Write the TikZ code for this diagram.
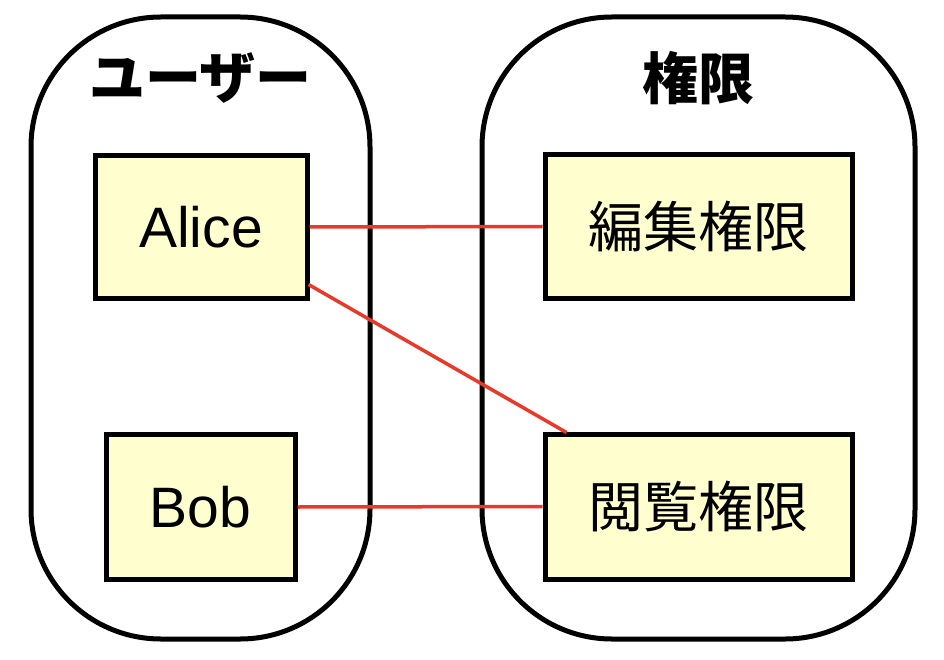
\documentclass[tikz,border=0pt]{standalone}
\usepackage{fontspec}
\setmainfont{Liberation Sans}
\newfontfamily\cjk{Noto Sans CJK JP}
\usetikzlibrary{calc}
\definecolor{boxfill}{HTML}{FEFECE}
\definecolor{linkred}{HTML}{E8392A}
\tikzset{
  container/.style={draw=black, line width=5pt, rounded corners=130pt},
  item/.style={draw=black, fill=boxfill, line width=5pt, inner sep=0pt, font=\fontsize{57}{62}\selectfont},
  jitem/.style={item, font=\cjk\fontsize{55}{60}\selectfont},
  title/.style={font=\cjk\bfseries\fontsize{56}{60}\selectfont, inner sep=0pt},
  link/.style={draw=linkred, line width=3.5pt}
}
\begin{document}
\begin{tikzpicture}[x=1pt, y=-1pt]
\useasboundingbox (0,0) rectangle (944,660);
\draw[container] (31,17) rectangle (370,639);
\draw[container] (482,17) rectangle (915,639);
\node[title] (tu) at (200.5,78) {ユーザー};
\node[title] (tp) at (698.5,78) {権限};
\node[item, minimum width=212pt, minimum height=142pt] (alice) at (201,227) {Alice};
\node[item, minimum width=189pt, minimum height=145pt] (bob) at (200.5,507) {Bob};
\node[jitem, minimum width=307pt, minimum height=143pt] (edit) at (698.5,226.5) {編集権限};
\node[jitem, minimum width=307pt, minimum height=145pt] (view) at (698.5,506.5) {閲覧権限};
\draw[link] (alice.east) -- (edit.west);
\draw[link] ([xshift=-1pt,yshift=16pt]alice.south east) -- ([xshift=24pt,yshift=-1pt]view.north west);
\draw[link] (bob.east) -- (view.west);
\end{tikzpicture}
\end{document}
